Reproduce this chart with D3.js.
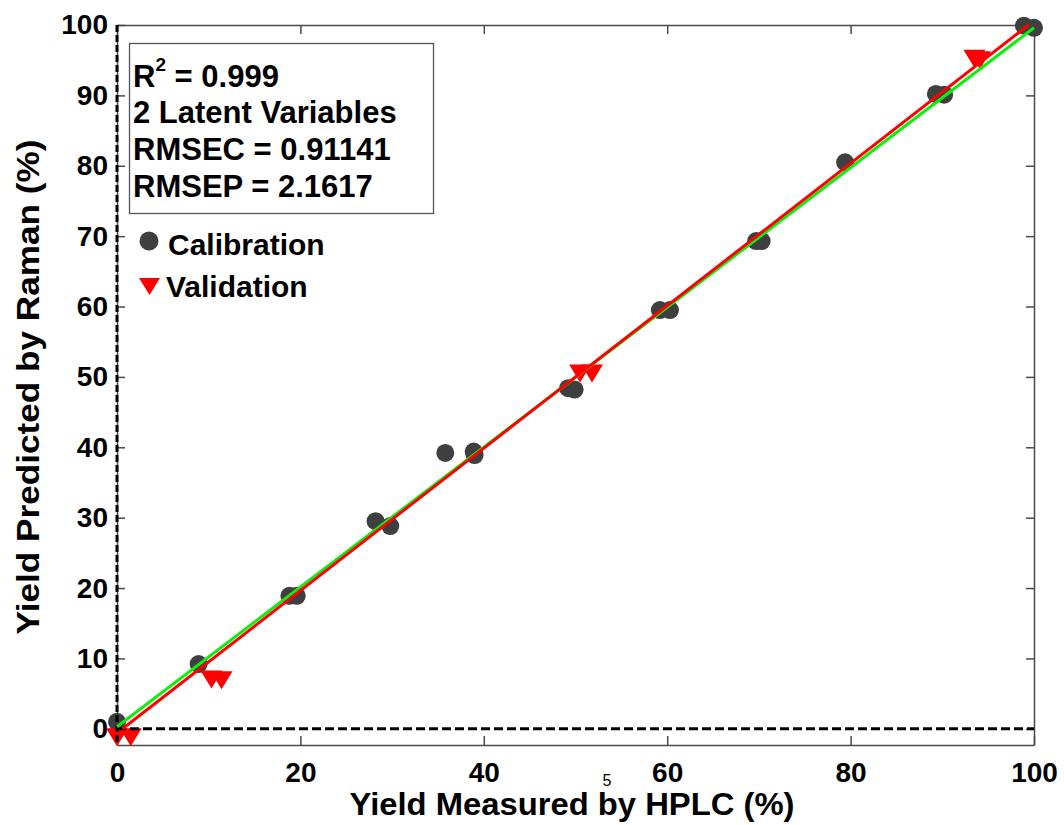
<!DOCTYPE html>
<html>
<head>
<meta charset="utf-8">
<script src="https://cdn.jsdelivr.net/npm/d3@7"></script>
<style>
  html, body { margin: 0; padding: 0; background: #fff; }
  svg { display: block; }
  text { font-family: "Liberation Sans", Arial, sans-serif; font-weight: bold; fill: #000; }
</style>
</head>
<body>
<svg id="chart" width="1064" height="825"></svg>
<script>
// Calibration set: measured (HPLC) vs predicted (Raman) yield, %
const calMeasured  = [0.0, 8.9, 18.8, 19.6, 28.2, 29.8, 35.8, 38.9, 39.0, 49.2, 49.9, 59.2, 60.3, 69.7, 70.3, 79.4, 89.3, 90.2, 98.9, 100.0];
const calPredicted = [1.0, 9.2, 18.9, 18.9, 29.5, 28.8, 39.2, 39.4, 38.9, 48.4, 48.2, 59.5, 59.5, 69.3, 69.3, 80.5, 90.2, 90.1, 99.9, 99.6];

// Validation set
const valMeasured  = [0.0, 1.5, 10.3, 11.4, 50.5, 51.8, 93.5, 94.1];
const valPredicted = [-1.2, -1.2, 7.0, 6.9, 50.5, 50.5, 95.2, 95.0];

// Regression lines (green = calibration, red = validation)
const fitNames     = ["calibration", "validation"];
const fitSlope     = [0.993, 1.012];
const fitIntercept = [0.3, -0.6];
const fitXStart    = [0, 0.6];
const fitXEnd      = [100, 99.4];

const xTicks = [0, 20, 40, 60, 80, 100];
const yTicks = [0, 10, 20, 30, 40, 50, 60, 70, 80, 90, 100];

const statsLines = ["2 Latent Variables", "RMSEC = 0.91141", "RMSEP = 2.1617"];
const r2Value = "0.999";

const svg = d3.select("#chart");
const plot = { left: 117, right: 1034, top: 25, bottom: 745 };

const x = d3.scaleLinear().domain([0, 100]).range([plot.left, plot.right]);
const y = d3.scaleLinear().domain([-2.3, 100]).range([plot.bottom, plot.top]);

const frameColor = "#4a4a4a";

// Axes with inward ticks
const gBottom = svg.append("g")
  .attr("transform", `translate(0,${plot.bottom})`)
  .call(d3.axisBottom(x).tickValues(xTicks).tickSizeInner(-9).tickSizeOuter(0).tickPadding(17).tickFormat(d3.format("d")));
const gLeft = svg.append("g")
  .attr("transform", `translate(${plot.left},0)`)
  .call(d3.axisLeft(y).tickValues(yTicks).tickSizeInner(-8).tickSizeOuter(0).tickPadding(9).tickFormat(d3.format("d")));
const gTop = svg.append("g")
  .attr("transform", `translate(0,${plot.top})`)
  .call(d3.axisTop(x).tickValues(xTicks).tickSizeInner(-9).tickSizeOuter(0).tickFormat(""));
const gRight = svg.append("g")
  .attr("transform", `translate(${plot.right},0)`)
  .call(d3.axisRight(y).tickValues(yTicks).tickSizeInner(-8).tickSizeOuter(0).tickFormat(""));

[gBottom, gLeft, gTop, gRight].forEach(g => {
  g.select(".domain").attr("stroke", frameColor).attr("stroke-width", 1.5);
  g.selectAll(".tick line").attr("stroke", frameColor).attr("stroke-width", 1.5);
  g.selectAll(".tick text")
    .attr("fill", "#000")
    .style("font-family", '"Liberation Sans", Arial, sans-serif')
    .style("font-weight", "bold")
    .style("font-size", "28px");
});

// Calibration markers
svg.append("g").selectAll("circle")
  .data(calMeasured.map((m, i) => [m, calPredicted[i]]))
  .join("circle")
  .attr("cx", d => x(d[0]))
  .attr("cy", d => y(d[1]))
  .attr("r", 9)
  .attr("fill", "#3f3f3f");

// Validation markers (downward triangles)
const triW = 22, triH = 18;
const triPath = `M${-triW / 2},${-triH / 2}L${triW / 2},${-triH / 2}L0,${triH / 2}Z`;
svg.append("g").selectAll("path")
  .data(valMeasured.map((m, i) => [m, valPredicted[i]]))
  .join("path")
  .attr("d", triPath)
  .attr("transform", d => `translate(${x(d[0])},${y(d[1])})`)
  .attr("fill", "#ff0000");

// Zero reference lines
svg.append("line")
  .attr("x1", x(0)).attr("x2", x(0))
  .attr("y1", plot.top).attr("y2", plot.bottom)
  .attr("stroke", "#000").attr("stroke-width", 3).attr("stroke-dasharray", "7,3");
svg.append("line")
  .attr("x1", plot.left).attr("x2", plot.right)
  .attr("y1", y(0)).attr("y2", y(0))
  .attr("stroke", "#000").attr("stroke-width", 3).attr("stroke-dasharray", "9,4");

// Regression lines
const fitColors = { calibration: "#10ee10", validation: "#ff0000" };
svg.append("g").selectAll("line")
  .data(fitNames.map((n, i) => ({ name: n, s: fitSlope[i], b: fitIntercept[i], x0: fitXStart[i], x1: fitXEnd[i] })))
  .join("line")
  .attr("x1", d => x(d.x0)).attr("y1", d => y(d.s * d.x0 + d.b))
  .attr("x2", d => x(d.x1)).attr("y2", d => y(d.s * d.x1 + d.b))
  .attr("stroke", d => fitColors[d.name])
  .attr("stroke-width", 3);

// Statistics box
svg.append("rect")
  .attr("x", 129.5).attr("y", 43.5).attr("width", 304).attr("height", 170)
  .attr("fill", "none").attr("stroke", "#555").attr("stroke-width", 1.3);

const r2 = svg.append("text").attr("x", 133).attr("y", 87).style("font-size", "31px");
r2.append("tspan").text("R");
r2.append("tspan").attr("dy", -16).style("font-size", "19px").text("2");
r2.append("tspan").attr("dy", 16).text(" = " + r2Value);

svg.append("g").selectAll("text")
  .data(statsLines)
  .join("text")
  .attr("x", 133)
  .attr("y", (d, i) => 123 + i * 37)
  .style("font-size", "31px")
  .text(d => d);

// Legend
svg.append("circle").attr("cx", 149).attr("cy", 241).attr("r", 9.5).attr("fill", "#3f3f3f");
svg.append("text").attr("x", 168).attr("y", 255).style("font-size", "30px").text("Calibration");
svg.append("path").attr("d", `M139,278L160,278L149.5,295Z`).attr("fill", "#ff0000");
svg.append("text").attr("x", 166).attr("y", 297).style("font-size", "30px").attr("fill", "#0d0d1a").text("Validation");

// Axis titles
svg.append("text")
  .attr("x", 572).attr("y", 815)
  .attr("text-anchor", "middle")
  .attr("textLength", 445).attr("lengthAdjust", "spacingAndGlyphs")
  .style("font-size", "31px")
  .text("Yield Measured by HPLC (%)");

svg.append("text")
  .attr("transform", "translate(39,387) rotate(-90)")
  .attr("text-anchor", "middle")
  .attr("textLength", 495).attr("lengthAdjust", "spacingAndGlyphs")
  .style("font-size", "32px")
  .text("Yield Predicted by Raman (%)");

// Page number
svg.append("text")
  .attr("x", 607).attr("y", 786)
  .attr("text-anchor", "middle")
  .style("font-size", "16px").style("font-weight", "normal")
  .attr("fill", "#888")
  .text("5");
</script>
</body>
</html>
